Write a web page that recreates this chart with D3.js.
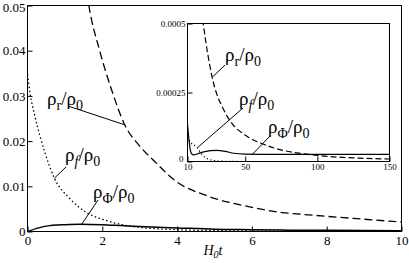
<!DOCTYPE html>
<html>
<head>
<meta charset="utf-8">
<script src="https://cdn.jsdelivr.net/npm/d3@7"></script>
<style>
body { margin: 0; background: #fff; }
text { font-family: "Liberation Serif", "Times New Roman", Times, serif; fill: #000; }
</style>
</head>
<body>
<script>
// main panel ticks
var mainTicksX = [0, 2, 4, 6, 8, 10];
var mainTicksY = [0, 0.01, 0.02, 0.03, 0.04, 0.05];
var mainLabelsY = ["0", "0.01", "0.02", "0.03", "0.04", "0.05"];

// main panel curves (H0 t, rho/rho0)
var radT = [1.5, 1.64, 1.93, 2.25, 2.6, 3.0, 3.4, 3.94, 4.83, 5.74, 6.62, 7.64, 8.71, 10];
var radV = [0.058, 0.050, 0.040, 0.0313, 0.0236, 0.0189, 0.0155, 0.0113, 0.0078, 0.0058, 0.0044, 0.0036, 0.0029, 0.0021];
var fT = [0, 0.08, 0.19, 0.46, 0.72, 1.13, 1.58, 2.12, 2.65, 3.0, 4, 5, 6, 8, 10];
var fV = [0.0347, 0.030, 0.0258, 0.0176, 0.0118, 0.0073, 0.0042, 0.0024, 0.0013, 0.0009, 0.0004, 0.0002, 0.0001, 0.00004, 0.00002];
var phiT = [0, 0.3, 0.6, 1.0, 1.4, 2.0, 2.5, 3.0, 4, 5, 6, 7, 8, 10];
var phiV = [0, 0.0008, 0.0013, 0.0015, 0.0016, 0.0015, 0.0013, 0.0011, 0.0008, 0.0005, 0.0004, 0.0003, 0.00025, 0.00015];

// inset ticks
var insetTicksX = [10, 50, 100, 150];
var insetTicksY = [0, 0.00025, 0.0005];
var insetLabelsY = ["0", "0.00025", "0.0005"];

// inset curves
var radT2 = [19, 20.9, 27.1, 35, 39.8, 51.4, 60.6, 76.5, 90, 100, 111, 130, 150];
var radV2 = [0.00058, 0.0005, 0.000305, 0.000188, 0.000145, 0.000091, 0.000067, 0.00004, 0.000028, 0.000022, 0.000017, 0.000012, 0.000009];
var fT2 = [10, 12, 13.3, 15, 17, 19, 21, 24, 28, 35, 50, 150];
var fV2 = [0.00009, 0.00007, 0.000063, 0.000058, 0.000048, 0.000032, 0.00002, 0.00001, 0.000004, 0.000001, 0, 0];
var phiT2 = [10, 11, 12, 13, 14.4, 17, 22, 30, 36, 42, 50, 70, 100, 150];
var phiV2 = [0.000135, 0.00008, 0.00004, 0.000027, 0.000024, 0.000028, 0.000036, 0.00004, 0.000037, 0.00003, 0.000027, 0.000026, 0.000026, 0.000026];

var width = 409, height = 263;
var serif = '"Liberation Serif", "Times New Roman", Times, serif';

var svg = d3.select("body").append("svg")
  .attr("width", width)
  .attr("height", height)

var x = d3.scaleLinear().domain([0, 10]).range([27.5, 401.5])
var y = d3.scaleLinear().domain([0, 0.05]).range([231.5, 5.5])

var xi = d3.scaleLinear().domain([10, 150]).range([187.5, 389.5])
var yi = d3.scaleLinear().domain([0, 0.0005]).range([161.5, 23.5])

var defs = svg.append("defs")
defs.append("clipPath").attr("id", "clipMain")
  .append("rect").attr("x", 27.5).attr("y", 5.5).attr("width", 374).attr("height", 226)
defs.append("clipPath").attr("id", "clipInset")
  .append("rect").attr("x", 187.5).attr("y", 23.5).attr("width", 202).attr("height", 138)

function makeLine(xs, ys, ts, vs) {
  return d3.line()
    .x(function(i) { return xs(ts[i]) })
    .y(function(i) { return ys(vs[i]) })
    .curve(d3.curveMonotoneX)(d3.range(ts.length))
}

// main axes
var xAxis = d3.axisBottom(x).tickValues(mainTicksX).tickSize(-5).tickPadding(4)
  .tickFormat(function(d) { return String(d) })
var yAxis = d3.axisLeft(y).tickValues(mainTicksY).tickSize(-5).tickPadding(2)
  .tickFormat(function(d, i) { return mainLabelsY[i] })

svg.append("g").attr("transform", "translate(0 231.5)").call(xAxis)
  .attr("font-family", serif)
  .call(function(g) { g.select(".domain").remove() })
  .selectAll("text").style("font-size", "13px")
svg.append("g").attr("transform", "translate(27.5 0)").call(yAxis)
  .attr("font-family", serif)
  .call(function(g) { g.select(".domain").remove() })
  .selectAll("text").style("font-size", "13px")
  .attr("dy", function(d) { return d === 0.05 ? "0.45em" : "0.32em" })

svg.append("rect")
  .attr("x", 27.5).attr("y", 5.5).attr("width", 374).attr("height", 226)
  .attr("fill", "none").attr("stroke", "#000").attr("stroke-width", 1)

var main = svg.append("g").attr("clip-path", "url(#clipMain)")
main.append("path").attr("d", makeLine(x, y, radT, radV))
  .attr("fill", "none").attr("stroke", "#000").attr("stroke-width", 1.3).attr("stroke-dasharray", "8,4")
main.append("path").attr("d", makeLine(x, y, fT, fV))
  .attr("fill", "none").attr("stroke", "#000").attr("stroke-width", 1.3).attr("stroke-dasharray", "1.5,2.5")
main.append("path").attr("d", makeLine(x, y, phiT, phiV))
  .attr("fill", "none").attr("stroke", "#000").attr("stroke-width", 1.5)

// inset
svg.append("rect")
  .attr("x", 187.5).attr("y", 23.5).attr("width", 202).attr("height", 138)
  .attr("fill", "#fff").attr("stroke", "#000").attr("stroke-width", 1)

var xAxisI = d3.axisBottom(xi).tickValues(insetTicksX).tickSize(-5).tickPadding(2)
var yAxisI = d3.axisLeft(yi).tickValues(insetTicksY).tickSize(-5).tickPadding(2)
  .tickFormat(function(d, i) { return insetLabelsY[i] })

svg.append("g").attr("transform", "translate(0 161.5)").call(xAxisI)
  .attr("font-family", serif)
  .call(function(g) { g.select(".domain").remove() })
  .selectAll("text").style("font-size", "9px")
svg.append("g").attr("transform", "translate(187.5 0)").call(yAxisI)
  .attr("font-family", serif)
  .call(function(g) { g.select(".domain").remove() })
  .selectAll("text").style("font-size", "9px")
  .attr("x", function(d) { return d === 0 ? -4 : -2 })
  .attr("dy", function(d) { return d === 0 ? "0.05em" : "0.32em" })

var inset = svg.append("g").attr("clip-path", "url(#clipInset)")
inset.append("path").attr("d", makeLine(xi, yi, radT2, radV2))
  .attr("fill", "none").attr("stroke", "#000").attr("stroke-width", 1.2).attr("stroke-dasharray", "6,3")
inset.append("path").attr("d", makeLine(xi, yi, fT2, fV2))
  .attr("fill", "none").attr("stroke", "#000").attr("stroke-width", 1.2).attr("stroke-dasharray", "1.2,2.5")
inset.append("path").attr("d", makeLine(xi, yi, phiT2, phiV2))
  .attr("fill", "none").attr("stroke", "#000").attr("stroke-width", 1.2)

// curve labels
function ratioLabel(px, py, sub, italicSub) {
  var t = svg.append("text").attr("x", px).attr("y", py).style("font-size", "19px")
  t.append("tspan").text("ρ")
  t.append("tspan").text(sub).attr("dy", 5).style("font-size", "14px")
    .style("font-style", italicSub ? "italic" : "normal")
  t.append("tspan").text("/ρ").attr("dy", -5)
  t.append("tspan").text("0").attr("dy", 5).style("font-size", "14px")
}
function leader(x1, y1, x2, y2) {
  svg.append("line").attr("x1", x1).attr("y1", y1).attr("x2", x2).attr("y2", y2)
    .attr("stroke", "#000").attr("stroke-width", 1)
}

ratioLabel(47, 105, "r", false)
leader(68, 106, x(2.6), y(0.0236))
ratioLabel(65, 161, "f", true)
leader(66, 167, x(0.72), y(0.0118))
ratioLabel(93, 198, "Φ", false)
leader(98, 200, x(1.45), y(0.0016))

ratioLabel(225, 61, "r", false)
leader(225, 65, xi(27.1), yi(0.000305))
ratioLabel(239, 105, "f", true)
leader(243, 108, xi(16.9), yi(0.00005))
ratioLabel(268, 133, "Φ", false)
leader(270, 136, xi(55), yi(0.000026))

// x axis title
var xt = svg.append("text").attr("x", 213).attr("y", 255)
  .attr("text-anchor", "middle").style("font-size", "14px").style("font-style", "italic")
xt.append("tspan").text("H")
xt.append("tspan").text("0").attr("dy", 3).style("font-size", "10px")
xt.append("tspan").text("t").attr("dy", -3)
</script>
</body>
</html>
